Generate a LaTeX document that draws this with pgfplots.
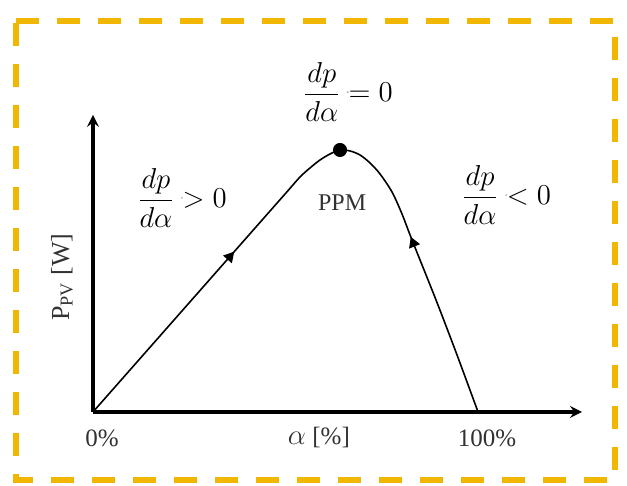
\documentclass[border=0pt]{standalone}
\usepackage{fontspec}
\setmainfont{Liberation Serif}
\usepackage{pgfplots}
\pgfplotsset{compat=1.18}
\definecolor{frameorange}{RGB}{240,182,0}
\definecolor{labelgray}{RGB}{50,50,50}

\begin{document}
\begin{tikzpicture}
\begin{axis}[
  scale only axis,
  width=244.5pt, height=148.55pt,
  xmin=0, xmax=127, ymin=0, ymax=113.4,
  axis lines=left,
  axis line style={line width=1.6pt, black},
  xtick={0,100}, xticklabels={0\%,100\%},
  ytick=\empty,
  major tick length=0pt,
  xticklabel style={anchor=center, xshift=4.5pt, yshift=-13pt,
    text=labelgray, font=\fontsize{12.5}{14}\selectfont},
  xlabel={{\Large$\alpha$} [\%]},
  every axis x label/.style={at={(axis description cs:0.462,-0.0873)},
    anchor=center, text=labelgray, font=\fontsize{12.5}{14}\selectfont},
  ylabel={P\textsubscript{PV} [W]},
  every axis y label/.style={at={(axis description cs:-0.0634,0.454)},
    anchor=center, rotate=90, text=labelgray, font=\fontsize{13}{15}\selectfont},
  clip=false,
  textmark/.style={only marks, mark=*, mark size=0.01pt,
    mark options={draw=none, fill=none}, nodes near coords align={center}},
]
% page extent (not drawn)
\addplot[draw=none, mark=none] coordinates {(-24.16,-28.24) (138.7,157.25)};
% dashed frame
\addplot[frameorange, line width=2.6pt, dash pattern=on 11.5pt off 9pt,
  mark=none, line join=miter] coordinates {
  (-20,149.2) (135.6,149.2) (135.6,-26) (-20,-26) (-20,149.2)};

% P-alpha curve
\addplot[black, line width=0.8pt, smooth, mark=none] coordinates {
  (0,0) (20,33.36) (40,66.72) (50,83.4) (53.77,89.69) (56.36,93.13)
  (58.96,96.18) (61.56,98.47) (64.16,100) (66.75,99.62) (69.35,98.09)
  (71.95,95.04) (74.55,90.84) (77.66,83.97) (80.26,75.57) (82.86,65.65)
  (89.09,42.75) (94.55,21.76) (100,0)
};
% direction of travel along the curve
\addplot[only marks, mark=triangle*, mark size=3pt, black,
  mark options={rotate=-41.4}] coordinates {(35.5,59.2)};
\addplot[only marks, mark=triangle*, mark size=3pt, black,
  mark options={rotate=21.8}] coordinates {(83.2,64.4)};
% maximum power point
\addplot[only marks, mark=*, mark size=3.3pt, black] coordinates {(64.16,100)};

% slope annotations
\addplot[textmark, nodes near coords={\Large$\displaystyle\frac{dp}{d\alpha}=0$}]
  coordinates {(66.2,122.1)};
\addplot[textmark, nodes near coords={\Large$\displaystyle\frac{dp}{d\alpha}>0$}]
  coordinates {(23.1,81.7)};
\addplot[textmark, nodes near coords={\Large$\displaystyle\frac{dp}{d\alpha}<0$}]
  coordinates {(107.3,82.8)};
\addplot[textmark, nodes near coords={PPM},
  every node near coord/.append style={text=labelgray, font=\fontsize{12}{14}\selectfont}]
  coordinates {(64.7,79.8)};
\end{axis}
\end{tikzpicture}
\end{document}
